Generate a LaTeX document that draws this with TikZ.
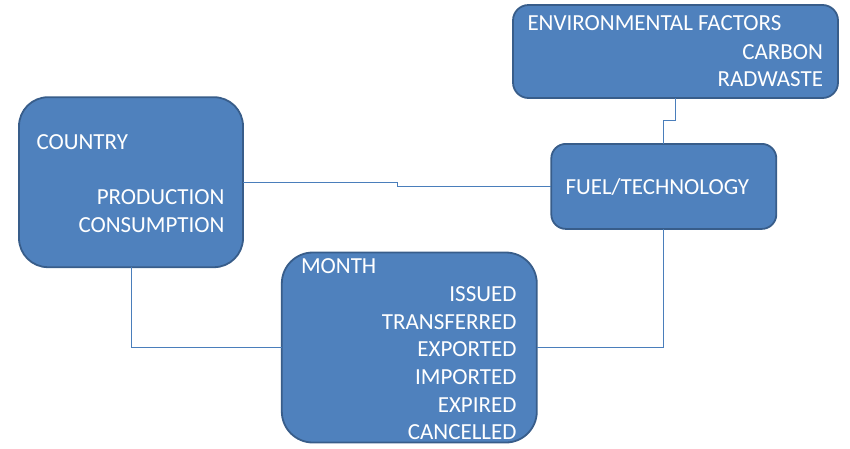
\documentclass[tikz,border=0pt]{standalone}
\usepackage{fontspec}
\setmainfont{Carlito}
\definecolor{boxfill}{HTML}{4F81BD}
\definecolor{boxline}{HTML}{385D8A}
\definecolor{connc}{HTML}{4A7EBB}
\begin{document}
\begin{tikzpicture}[x=1pt,y=-1pt,
  box/.style={draw=boxline,line width=1.8pt,fill=boxfill,inner sep=0pt,outer sep=0pt},
  lbl/.style={inner sep=0pt,outer sep=0pt,text=white,font=\fontsize{23}{27.7}\selectfont},
  lw/.style={lbl,anchor=base west},
  le/.style={lbl,anchor=base east},
  connector/.style={draw=connc,line width=1pt}]
\useasboundingbox (0,0) rectangle (850,448);
\node[box, minimum width=224pt, minimum height=170pt, rounded corners=29pt] (country) at (131,182.2) {};
\node[box, minimum width=325pt, minimum height=93pt, rounded corners=15.5pt] (env) at (675.5,51.5) {};
\node[box, minimum width=225pt, minimum height=85pt, rounded corners=14.5pt] (fuel) at (663.8,186.4) {};
\node[box, minimum width=255pt, minimum height=190pt, rounded corners=31pt] (month) at (409.3,347.5) {};
\draw[connector] (country.east) -- ++(154,0) |- (fuel.west);
\draw[connector] (env.south) -- ++(0,22.5) -| (fuel.north);
\draw[connector] (fuel.south) |- (month.east);
\draw[connector] (country.south) |- (month.west);
% texts
\node[lw] (t-country) at (36.5,149) {COUNTRY};
\node[le] (t-prod) at (224.5,204) {PRODUCTION};
\node[le] (t-cons) at (224.5,232) {CONSUMPTION};
\node[lw] (t-env) at (527.5,30.7) {ENVIRONMENTAL FACTORS};
\node[le] (t-carbon) at (823,59) {CARBON};
\node[le] (t-rad) at (823,86.7) {RADWASTE};
\node[lw] (t-fuel) at (565.5,194) {FUEL/TECHNOLOGY};
\node[lw] (t-month) at (301,273) {MONTH};
\node[le] (t-issued) at (516.5,301) {ISSUED};
\node[le] (t-trans) at (516.5,329) {TRANSFERRED};
\node[le] (t-exp) at (516.5,356) {EXPORTED};
\node[le] (t-imp) at (516.5,384) {IMPORTED};
\node[le] (t-expired) at (516.5,412) {EXPIRED};
\node[le] (t-canc) at (516.5,439) {CANCELLED};
\end{tikzpicture}
\end{document}
